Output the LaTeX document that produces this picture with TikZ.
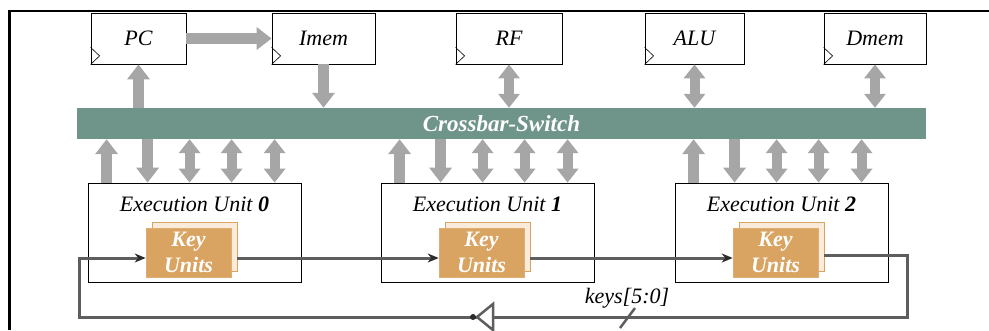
\documentclass[tikz,border=0pt]{standalone}
\usepackage{fontspec}
\setmainfont{Liberation Serif}
\usepackage{tikz}
\usetikzlibrary{calc,arrows.meta,shadows}
\definecolor{fatgray}{HTML}{A6A6A6}
\definecolor{xbarfill}{HTML}{6F9489}
\definecolor{keyfill}{HTML}{D9A462}
\definecolor{keyback}{HTML}{FBEBDB}
\definecolor{wire}{HTML}{5E5E5E}
\definecolor{tipc}{HTML}{2B2B2B}
\tikzset{
  txt/.style={font=\fontsize{22}{26}\selectfont\itshape},
  regbox/.style={txt, draw=black, line width=0.8pt, minimum height=51pt, inner sep=0pt},
  clk/.style={draw=black, line width=0.6pt},
  eubox/.style={draw=black, line width=0.8pt, minimum width=213pt, minimum height=99pt},
  switchbar/.style={fill=xbarfill, text=white, minimum width=849pt, minimum height=31pt,
    inner sep=0pt, font=\fontsize{23}{26}\selectfont\bfseries\itshape},
  keybox/.style={fill=keyfill, draw=keyfill!90!white, line width=0.6pt, text=white, align=center,
    minimum width=85pt, minimum height=49pt, inner sep=0pt,
    font=\fontsize{22}{26}\selectfont\bfseries\itshape,
    copy shadow={shadow xshift=6pt, shadow yshift=6pt, fill=keyback, draw=keyfill, line width=0.6pt}},
  fatup/.style={draw=fatgray, line width=11pt, -{Triangle[width=22pt,length=15pt]}},
  fatdown/.style={draw=fatgray, line width=11pt, {Triangle[width=22pt,length=15pt]}-},
  fatboth/.style={draw=fatgray, line width=10pt, {Triangle[width=21pt,length=14pt]}-{Triangle[width=21pt,length=14pt]}},
  wireline/.style={draw=wire, line width=3pt},
  wirearrow/.style={wireline, -{Stealth[length=11pt,width=9pt,color=tipc]}},
  buffer/.style={draw=wire, line width=2.5pt, fill=white, line join=miter},
  bubble/.style={circle, fill=tipc, inner sep=0pt, minimum size=6pt}
}
\begin{document}
\begin{tikzpicture}[x=1pt,y=-1pt]
  \useasboundingbox (0,0) rectangle (989,330);
  % frame
  \draw[line width=2.5pt, line join=miter] (9.5,330) -- (9.5,11) -- (989,11);
  % registers and memories
  \foreach \nm/\cx/\w/\lbl in {pc/138.5/95/PC, imem/323.5/103/Imem, rf/509/106/RF,
      alu/694.5/99/ALU, dmem/875/102/Dmem}{
    \node[regbox, minimum width={\w pt}] (\nm) at (\cx,38.5) {\lbl};
    \draw[clk] ($(\nm.south west)+(0,-17)$) -- ++(9,8.5) -- (\nm.south west);
  }
  \draw[fatup] (pc.east) -- (imem.west);
  % crossbar
  \node[switchbar] (xbar) at (501.5,123.5) {Crossbar-Switch};
  \draw[fatup] (pc.south |- xbar.north) -- (pc.south);
  \draw[fatup] (imem.south) -- (imem.south |- xbar.north);
  \foreach \nm in {rf,alu,dmem}
    \draw[fatboth] (\nm.south) -- (\nm.south |- xbar.north);
  % execution units
  \foreach \i/\cx in {0/194.5,1/487.5,2/781.5}{
    \node[eubox] (eu\i) at (\cx,232.5) {};
    \node[txt] (eut\i) at ($(eu\i.north)+(0,22)$) {Execution Unit \textbf{\i}};
    \node[keybox] (ku\i) at ($(eu\i.center)+(-6,20)$) {Key\\Units};
    \foreach \dx/\sty in {19/fatup,60/fatdown,102/fatboth,144/fatboth,187/fatboth}{
      \coordinate (p) at ($(eu\i.north west)+(\dx,0)$);
      \draw[\sty] (p) -- (p |- xbar.south);
    }
  }
  % key ring
  \draw[wirearrow] ($(ku0.east)+(6,5.5)$) -- ($(ku1.west)+(0,5.5)$);
  \draw[wirearrow] ($(ku1.east)+(6,5.5)$) -- ($(ku2.west)+(0,5.5)$);
  \coordinate (busR) at (907,317);
  \coordinate (busL) at (79,317);
  \draw[wirearrow] ($(ku2.east)+(6,2.5)$) -| (busR) -- (busL) |- ($(ku0.west)+(0,5.5)$);
  \coordinate (buf) at (493,317);
  \draw[buffer] (buf) -- ++(0,-13) -- ++(-16,13) -- ++(16,13) -- cycle;
  \node[bubble] (bub) at (473,317) {};
  \coordinate (slash) at (627.5,318);
  \draw[wireline, line width=2.5pt] ($(slash)+(-7.5,10)$) -- ($(slash)+(7.5,-10)$);
  \node[txt] (keys) at (627,298) {keys[5:0]};
\end{tikzpicture}
\end{document}
